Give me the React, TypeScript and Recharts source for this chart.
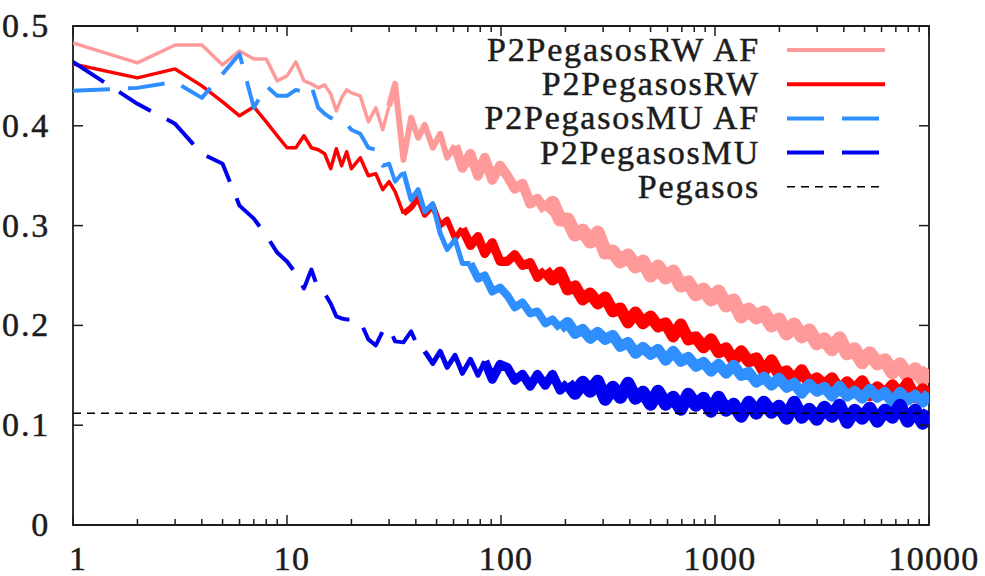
import { LineChart, Line, XAxis, YAxis, ReferenceLine, ReferenceArea } from "recharts";

// cycles (log x axis)
const cycles = [
  1, 2, 3, 4, 5, 6, 7, 8, 9, 10, 11, 12, 13, 14, 15, 16, 17, 18, 19, 20,
  22, 24, 26, 28, 30, 32, 35, 38, 41, 44,
  48, 52, 56, 61, 66, 72, 78, 84, 91, 99,
  107, 116, 126, 137, 148, 161, 174, 189, 205, 222,
  241, 261, 283, 307, 333, 361, 392, 425, 461, 500,
  542, 588, 638, 692, 750, 814, 883, 958, 1039, 1127,
  1222, 1326, 1438, 1560, 1692, 1836, 1991, 2160, 2343, 2542,
  2757, 2991, 3244, 3519, 3817, 4141, 4492, 4872, 5285, 5733,
  6219, 6746, 7318, 7938, 8611, 9341, 10000,
];

const rwAf = [
  0.483, 0.463, 0.481, 0.481, 0.461, 0.475, 0.467, 0.467, 0.445, 0.45,
  0.464, 0.445, 0.442, 0.438, 0.441, 0.432, 0.415, 0.428, 0.436, 0.433,
  0.43, 0.404, 0.418, 0.396, 0.42, 0.442, 0.366, 0.408, 0.388, 0.401,
  0.378, 0.392, 0.368, 0.38, 0.358, 0.372, 0.35, 0.368, 0.346, 0.36,
  0.35, 0.337, 0.342, 0.322, 0.327, 0.315, 0.323, 0.306, 0.306, 0.291,
  0.295, 0.284, 0.293, 0.273, 0.274, 0.264, 0.27, 0.259, 0.264, 0.25,
  0.259, 0.248, 0.254, 0.24, 0.243, 0.231, 0.236, 0.226, 0.234, 0.22,
  0.225, 0.209, 0.216, 0.208, 0.213, 0.2, 0.206, 0.192, 0.201, 0.189,
  0.195, 0.182, 0.186, 0.176, 0.187, 0.172, 0.176, 0.163, 0.172, 0.162,
  0.165, 0.153, 0.161, 0.149, 0.156, 0.146, 0.156,
];

const rw = [
  0.462, 0.448, 0.457, 0.44, 0.424, 0.41, 0.419, 0.404, 0.39, 0.378,
  0.378, 0.39, 0.378, 0.376, 0.372, 0.357, 0.377, 0.36, 0.374, 0.357,
  0.368, 0.35, 0.352, 0.336, 0.344, 0.334, 0.312, 0.318, 0.328, 0.311,
  0.32, 0.3, 0.306, 0.287, 0.297, 0.28, 0.289, 0.272, 0.283, 0.264,
  0.264, 0.271, 0.26, 0.263, 0.248, 0.255, 0.246, 0.253, 0.236, 0.239,
  0.226, 0.232, 0.222, 0.228, 0.214, 0.217, 0.203, 0.213, 0.202, 0.209,
  0.199, 0.202, 0.189, 0.201, 0.186, 0.188, 0.178, 0.186, 0.173, 0.177,
  0.165, 0.174, 0.164, 0.167, 0.154, 0.165, 0.151, 0.154, 0.145, 0.155,
  0.142, 0.147, 0.14, 0.147, 0.135, 0.143, 0.135, 0.144, 0.13, 0.138,
  0.131, 0.14, 0.131, 0.142, 0.128, 0.136, 0.131,
];

const muAf = [
  0.435, 0.438, 0.444, 0.428, 0.452, 0.472, 0.418, 0.44, 0.43, 0.43,
  0.436, 0.434, 0.44, 0.418, 0.412, 0.408, 0.405, 0.404, 0.402, 0.396,
  0.392, 0.378, 0.376, 0.36, 0.362, 0.344, 0.354, 0.326, 0.336, 0.314,
  0.322, 0.292, 0.276, 0.286, 0.262, 0.262, 0.247, 0.25, 0.234, 0.238,
  0.23, 0.218, 0.223, 0.212, 0.214, 0.202, 0.206, 0.197, 0.203, 0.192,
  0.196, 0.187, 0.193, 0.186, 0.19, 0.179, 0.183, 0.172, 0.178, 0.171,
  0.176, 0.165, 0.174, 0.164, 0.168, 0.159, 0.163, 0.154, 0.161, 0.152,
  0.16, 0.15, 0.153, 0.143, 0.148, 0.14, 0.147, 0.138, 0.142, 0.132,
  0.141, 0.134, 0.138, 0.129, 0.139, 0.129, 0.134, 0.127, 0.136, 0.128,
  0.133, 0.123, 0.133, 0.125, 0.13, 0.123, 0.132,
];

const mu = [
  0.464, 0.422, 0.402, 0.372, 0.362, 0.32, 0.307, 0.29, 0.273, 0.264,
  0.252, 0.237, 0.256, 0.236, 0.232, 0.222, 0.209, 0.207, 0.206, 0.206,
  0.204, 0.186, 0.18, 0.194, 0.198, 0.184, 0.183, 0.194, 0.178, 0.174,
  0.162, 0.174, 0.158, 0.17, 0.152, 0.166, 0.15, 0.164, 0.146, 0.161,
  0.158, 0.145, 0.151, 0.139, 0.151, 0.14, 0.151, 0.135, 0.142, 0.132,
  0.143, 0.134, 0.144, 0.126, 0.138, 0.128, 0.142, 0.127, 0.133, 0.121,
  0.134, 0.121, 0.128, 0.116, 0.131, 0.12, 0.127, 0.114, 0.128, 0.115,
  0.121, 0.109, 0.123, 0.112, 0.123, 0.113, 0.119, 0.107, 0.123, 0.108,
  0.116, 0.106, 0.118, 0.109, 0.12, 0.103, 0.115, 0.107, 0.117, 0.104,
  0.115, 0.108, 0.12, 0.104, 0.115, 0.102, 0.114,
];

const pegasos = 0.112;

const xMajorTicks = [1, 10, 100, 1000, 10000];
const xMinorTicks = [
  2, 3, 4, 5, 6, 7, 8, 9, 20, 30, 40, 50, 60, 70, 80, 90,
  200, 300, 400, 500, 600, 700, 800, 900, 2000, 3000, 4000, 5000, 6000, 7000, 8000, 9000,
];
const yTicks = [0, 0.1, 0.2, 0.3, 0.4, 0.5];

// each series is drawn in pieces: the noise makes it look thicker further right
type Part = { from: number; to: number; width: number; dash?: string };
const series: { key: string; label: string; color: string; values: number[]; dash?: string; parts: Part[] }[] = [
  {
    key: "rwAf", label: "P2PegasosRW AF", color: "#ff9a9a", values: rwAf,
    parts: [
      { from: 1, to: 30, width: 3.5 },
      { from: 30, to: 61, width: 6 },
      { from: 61, to: 161, width: 10 },
      { from: 161, to: 10000, width: 14 },
    ],
  },
  {
    key: "rw", label: "P2PegasosRW", color: "#ff0000", values: rw,
    parts: [
      { from: 1, to: 35, width: 3.5 },
      { from: 35, to: 66, width: 6 },
      { from: 66, to: 161, width: 9 },
      { from: 161, to: 10000, width: 12 },
    ],
  },
  {
    key: "muAf", label: "P2PegasosMU AF", color: "#2f8fff", values: muAf, dash: "37 18",
    parts: [
      { from: 1, to: 35, width: 4, dash: "37 18" },
      { from: 35, to: 72, width: 5 },
      { from: 72, to: 189, width: 8 },
      { from: 189, to: 10000, width: 11 },
    ],
  },
  {
    key: "mu", label: "P2PegasosMU", color: "#0000ee", values: mu, dash: "37 18",
    parts: [
      { from: 1, to: 44, width: 4, dash: "37 18" },
      { from: 44, to: 84, width: 5 },
      { from: 84, to: 205, width: 9 },
      { from: 205, to: 10000, width: 13 },
    ],
  },
];

const rows = cycles.map((x, i) => {
  const row: Record<string, number | null> = { x };
  for (const s of series) {
    s.parts.forEach((p, j) => {
      row[`${s.key}${j}`] = x >= p.from && x <= p.to ? s.values[i] : null;
    });
  }
  return row;
});

const PLOT = { left: 73, right: 929, top: 26, bottom: 525 };
const FONT = "Liberation Serif, Times New Roman, serif";
const INK = "#1c1c1c";

const legendItems = [
  ...series.map((s) => ({ label: s.label, color: s.color, dash: s.dash, width: 4 })),
  { label: "Pegasos", color: "#000", dash: "8 6", width: 1.5 },
];

function XTick(props: any) {
  const { x, payload } = props;
  const v = payload.value;
  const major = xMajorTicks.includes(v);
  const len = major ? 10 : 6;
  return (
    <g>
      <line x1={x} x2={x} y1={PLOT.bottom} y2={PLOT.bottom - len} stroke={INK} strokeWidth={1.5} />
      <line x1={x} x2={x} y1={PLOT.top} y2={PLOT.top + len} stroke={INK} strokeWidth={1.5} />
      {major && (
        <text x={x + 5} y={570} textAnchor="middle" fontFamily={FONT} fontSize={34} letterSpacing={1.2} fill={INK} stroke={INK} strokeWidth={0.5}>
          {v}
        </text>
      )}
    </g>
  );
}

function YTick(props: any) {
  const { y, payload } = props;
  return (
    <g>
      <line x1={PLOT.left} x2={PLOT.left + 10} y1={y} y2={y} stroke={INK} strokeWidth={1.5} />
      <line x1={PLOT.right - 10} x2={PLOT.right} y1={y} y2={y} stroke={INK} strokeWidth={1.5} />
      <text x={50} y={y + 11} textAnchor="end" fontFamily={FONT} fontSize={34} letterSpacing={1.8} fill={INK} stroke={INK} strokeWidth={0.5}>
        {payload.value}
      </text>
    </g>
  );
}

function LegendBox() {
  return (
    <svg width={985} height={576} style={{ position: "absolute", left: 0, top: 0, pointerEvents: "none" }}>
      {legendItems.map((it, i) => {
        const cy = 50 + i * 34.2;
        return (
          <g key={it.label}>
            <text x={760} y={cy + 11} textAnchor="end" fontFamily={FONT} fontSize={34} letterSpacing={1.8} fill={INK} stroke={INK} strokeWidth={0.5}>
              {it.label}
            </text>
            <line x1={787} x2={885} y1={cy} y2={cy} stroke={it.color} strokeWidth={it.width} strokeDasharray={it.dash} />
          </g>
        );
      })}
    </svg>
  );
}

export default function App() {
  return (
    <div style={{ position: "absolute", left: 0, top: 0, width: 985, height: 576, background: "#fff" }}>
      <LineChart width={985} height={576} data={rows} margin={{ top: 26, right: 56, bottom: 0, left: 0 }}>
        <XAxis
          dataKey="x"
          type="number"
          scale="log"
          domain={[1, 10000]}
          allowDataOverflow
          ticks={[...xMajorTicks, ...xMinorTicks]}
          interval={0}
          tick={<XTick />}
          tickLine={false}
          axisLine={false}
          height={51}
        />
        <YAxis
          type="number"
          domain={[0, 0.5]}
          ticks={yTicks}
          interval={0}
          tick={<YTick />}
          tickLine={false}
          axisLine={false}
          width={73}
        />
        <ReferenceArea x1={1} x2={10000} y1={0} y2={0.5} fill="none" stroke={INK} strokeWidth={1.8} />
        {series.flatMap((s) =>
          s.parts.map((p, j) => (
            <Line
              key={`${s.key}${j}`}
              dataKey={`${s.key}${j}`}
              stroke={s.color}
              strokeWidth={p.width}
              strokeDasharray={p.dash}
              strokeLinejoin="round"
              dot={false}
              isAnimationActive={false}
            />
          ))
        )}
        <ReferenceLine y={pegasos} stroke="#000" strokeWidth={1.5} strokeDasharray="8 6" />
      </LineChart>
      <LegendBox />
    </div>
  );
}
